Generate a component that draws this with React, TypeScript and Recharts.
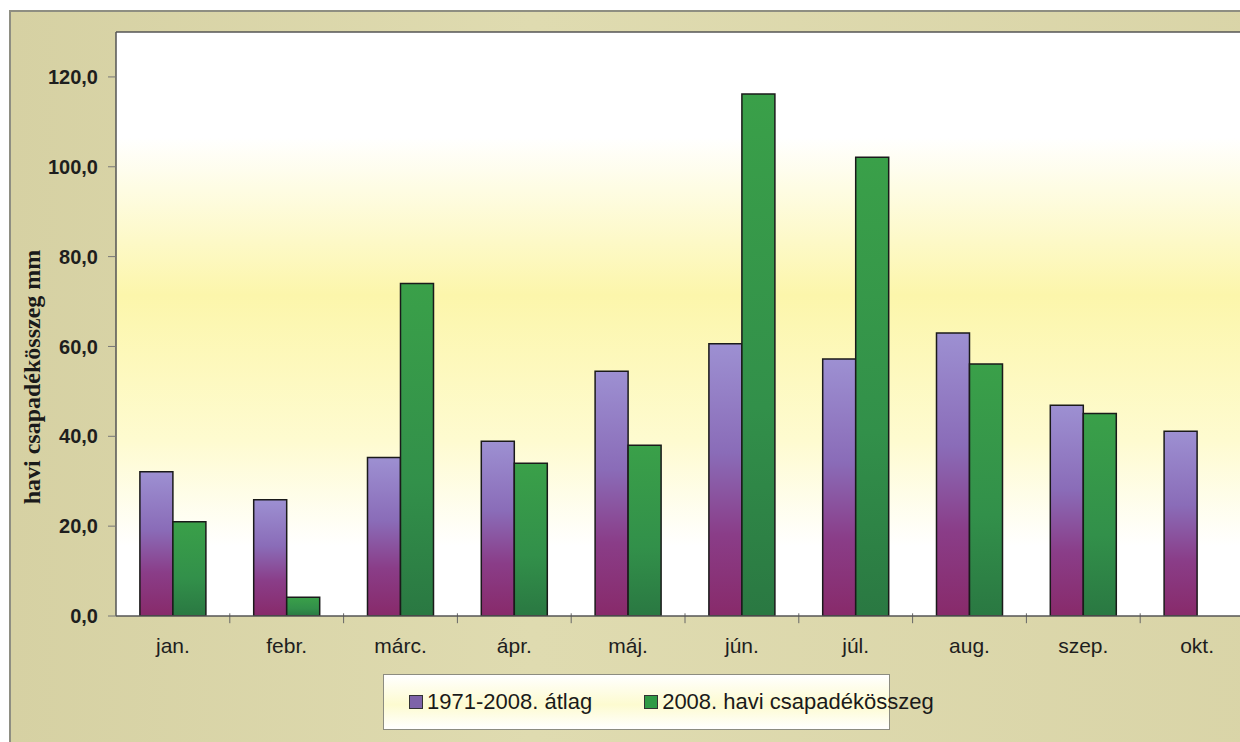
import React from 'react';
import {
  BarChart,
  Bar,
  XAxis,
  YAxis,
  CartesianGrid,
  Legend,
  ReferenceLine,
} from 'recharts';

// monthly precipitation, mm
const months = ['jan.', 'febr.', 'márc.', 'ápr.', 'máj.', 'jún.', 'júl.', 'aug.', 'szep.', 'okt.'];
const longTermAvg = [32.1, 25.9, 35.3, 38.9, 54.5, 60.6, 57.2, 63.0, 46.9, 41.1];
const monthly2008 = [21.0, 4.2, 74.0, 34.0, 38.0, 116.2, 102.1, 56.1, 45.1, null];
const yTicks = [0, 20, 40, 60, 80, 100, 120];

const SERIES_AVG = '1971-2008. átlag';
const SERIES_2008 = '2008. havi csapadékösszeg';

const data = months.map((m, i) => ({
  month: m,
  avg: longTermAvg[i],
  y2008: monthly2008[i],
}));

const fmt = (v: number) => v.toFixed(1).replace('.', ',');
const SANS = 'Arial, "Liberation Sans", sans-serif';

const LegendBox = () => (
  <div
    style={{
      width: 507,
      height: 56,
      boxSizing: 'border-box',
      border: '1px solid #8c8c80',
      background: 'linear-gradient(to bottom, #ffffff 0%, #fdfbd0 55%, #ffffff 100%)',
      display: 'flex',
      alignItems: 'center',
      fontFamily: SANS,
      fontSize: 22,
      color: '#1a1a1a',
      whiteSpace: 'nowrap',
    }}
  >
    <span style={{ display: 'flex', alignItems: 'center', marginLeft: 25, flexShrink: 0 }}>
      <span style={{ width: 12, height: 12, border: '1px solid #333', background: '#7d62a8', marginRight: 4 }} />
      {SERIES_AVG}
    </span>
    <span style={{ display: 'flex', alignItems: 'center', marginLeft: 52, flexShrink: 0 }}>
      <span style={{ width: 12, height: 12, border: '1px solid #333', background: '#2f9a45', marginRight: 4 }} />
      {SERIES_2008}
    </span>
  </div>
);

export default function App() {
  return (
    <div
      style={{
        position: 'absolute',
        left: 0,
        top: 0,
        width: 1240,
        height: 742,
        overflow: 'hidden',
        background: '#ffffff',
      }}
    >
      {/* tan outer frame */}
      <div
        style={{
          position: 'absolute',
          left: 9,
          top: 10,
          width: 1300,
          height: 800,
          border: '2px solid #8e8e82',
          background: 'linear-gradient(to right, #d6d1a3 0%, #dfdbb0 40%, #d9d4a7 100%)',
        }}
      />
      <div style={{ position: 'absolute', left: 0, top: 0 }}>
        <BarChart
          width={1300}
          height={742}
          data={data}
          margin={{ top: 32, right: 46, left: 0, bottom: 30 }}
          barCategoryGap="21%"
          barGap={0}
        >
          <defs>
            <linearGradient id="plotBg" x1="0" y1="0" x2="0" y2="1">
              <stop offset="0%" stopColor="#ffffff" />
              <stop offset="18%" stopColor="#ffffff" />
              <stop offset="45%" stopColor="#fcf6ab" />
              <stop offset="70%" stopColor="#fefbd0" />
              <stop offset="88%" stopColor="#ffffff" />
              <stop offset="100%" stopColor="#ffffff" />
            </linearGradient>
            <linearGradient id="avgFill" x1="0" y1="0" x2="0" y2="1">
              <stop offset="0%" stopColor="#9d90d2" />
              <stop offset="40%" stopColor="#8a6cb8" />
              <stop offset="70%" stopColor="#8a3d88" />
              <stop offset="100%" stopColor="#882a6a" />
            </linearGradient>
            <linearGradient id="greenFill" x1="0" y1="0" x2="0" y2="1">
              <stop offset="0%" stopColor="#3aa049" />
              <stop offset="60%" stopColor="#32904a" />
              <stop offset="100%" stopColor="#2a7842" />
            </linearGradient>
          </defs>
          <CartesianGrid
            horizontal={false}
            vertical={false}
            fill="url(#plotBg)"
            fillOpacity={1}
          />
          <XAxis
            dataKey="month"
            axisLine={{ stroke: '#555555', strokeWidth: 1.5 }}
            tickLine={false}
            tick={{ fill: '#1e1e1e', fontSize: 21, fontFamily: SANS }}
            tickMargin={16}
            height={40}
            interval={0}
          />
          <YAxis
            domain={[0, 130]}
            ticks={yTicks}
            width={116}
            allowDataOverflow
            axisLine={{ stroke: '#555555', strokeWidth: 1.5 }}
            tickLine={{ stroke: '#777777' }}
            tickSize={8}
            tickFormatter={fmt}
            tick={{ fill: '#1e1e1e', fontSize: 20, fontWeight: 'bold', fontFamily: SANS }}
            tickMargin={10}
            label={{
              content: () => (
                <text
                  x={40}
                  y={377}
                  transform="rotate(-90 40 377)"
                  textAnchor="middle"
                  fontFamily='"Liberation Serif", "Times New Roman", serif'
                  fontWeight="bold"
                  fontSize={24}
                  fill="#1a1a1a"
                >
                  havi csapadékösszeg mm
                </text>
              ),
            }}
          />
          <ReferenceLine y={130} stroke="#555555" strokeWidth={1.5} />
          {/* small tick marks on the boundaries between months */}
          {months.slice(1).map((m) => (
            <ReferenceLine
              key={m}
              segment={[{ x: m, y: 0.6 }, { x: m, y: -1.6 }]}
              position="start"
              stroke="#666666"
              strokeWidth={1}
              ifOverflow="visible"
            />
          ))}
          <Bar
            dataKey="avg"
            name={SERIES_AVG}
            fill="url(#avgFill)"
            stroke="#1a1a1a"
            strokeWidth={1.5}
            isAnimationActive={false}
          />
          <Bar
            dataKey="y2008"
            name={SERIES_2008}
            fill="url(#greenFill)"
            stroke="#1a1a1a"
            strokeWidth={1.5}
            isAnimationActive={false}
          />
          <Legend
            height={56}
            content={() => <LegendBox />}
            wrapperStyle={{ position: 'absolute', left: 383, top: 674, width: 507, height: 56 }}
          />
        </BarChart>
      </div>
    </div>
  );
}
